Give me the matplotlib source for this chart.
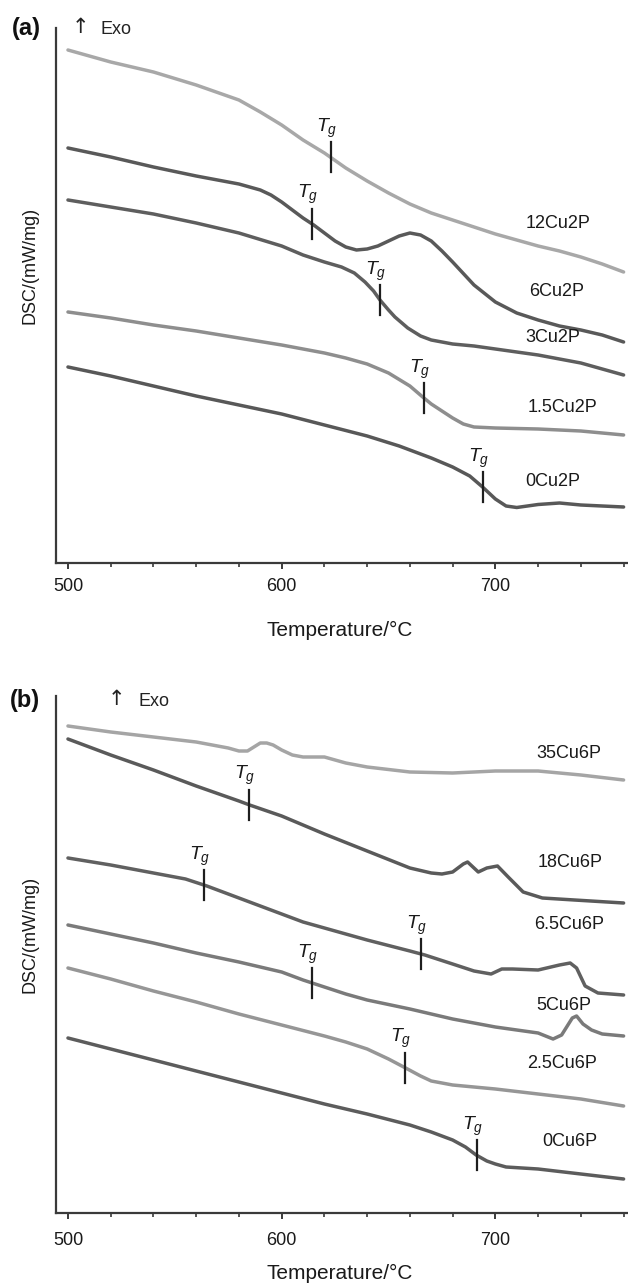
import numpy as np
import matplotlib
matplotlib.use("Agg")
import matplotlib.pyplot as plt
from matplotlib.ticker import MultipleLocator

plt.rcParams['font.family'] = ['Liberation Sans', 'DejaVu Sans']
plt.rcParams['mathtext.fontset'] = 'custom'
plt.rcParams['mathtext.it'] = 'Liberation Sans:italic'
plt.rcParams['mathtext.rm'] = 'Liberation Sans'

# ---------------- Panel (a) data: temperature (°C) / DSC (arb. units) ----------------
t_12Cu2P = [500, 520, 540, 560, 580, 590, 600, 610, 620, 630, 640, 650, 660, 670, 680, 690, 700, 710, 720, 730, 740, 750, 760]
d_12Cu2P = [5.13, 5.01, 4.91, 4.78, 4.63, 4.51, 4.38, 4.23, 4.10, 3.95, 3.82, 3.70, 3.59, 3.50, 3.43, 3.36, 3.29, 3.23, 3.17, 3.12, 3.06, 2.99, 2.91]

t_6Cu2P = [500, 520, 540, 560, 580, 590, 595, 600, 605, 610, 615, 620, 625, 630, 635, 640, 645, 650, 655, 660, 665, 670, 675, 680, 690, 700, 710, 720, 730, 740, 750, 760]
d_6Cu2P = [4.15, 4.06, 3.96, 3.87, 3.79, 3.73, 3.68, 3.61, 3.53, 3.45, 3.38, 3.30, 3.22, 3.16, 3.13, 3.14, 3.17, 3.22, 3.27, 3.30, 3.28, 3.22, 3.12, 3.01, 2.78, 2.61, 2.50, 2.43, 2.37, 2.33, 2.28, 2.21]

t_3Cu2P = [500, 520, 540, 560, 580, 600, 610, 620, 628, 634, 639, 643, 646, 650, 653, 659, 665, 670, 680, 690, 700, 720, 740, 750, 760]
d_3Cu2P = [3.63, 3.56, 3.49, 3.40, 3.30, 3.17, 3.08, 3.01, 2.96, 2.90, 2.81, 2.72, 2.63, 2.53, 2.46, 2.35, 2.27, 2.23, 2.19, 2.17, 2.14, 2.08, 2.00, 1.94, 1.88]

t_15Cu2P = [500, 520, 540, 560, 580, 600, 620, 630, 640, 650, 660, 666, 670, 680, 685, 690, 700, 720, 740, 760]
d_15Cu2P = [2.51, 2.45, 2.38, 2.32, 2.25, 2.18, 2.10, 2.05, 1.99, 1.90, 1.77, 1.66, 1.59, 1.45, 1.39, 1.36, 1.35, 1.34, 1.32, 1.28]

t_0Cu2P = [500, 520, 540, 560, 580, 600, 620, 640, 655, 670, 680, 688, 694, 700, 705, 710, 720, 730, 740, 750, 760]
d_0Cu2P = [1.96, 1.87, 1.77, 1.67, 1.58, 1.49, 1.38, 1.27, 1.17, 1.05, 0.96, 0.87, 0.76, 0.64, 0.57, 0.555, 0.585, 0.60, 0.58, 0.57, 0.56]

labels_a = ['12Cu2P', '6Cu2P', '3Cu2P', '1.5Cu2P', '0Cu2P']
tg_a = [[623], [614], [646], [666.5], [694]]

# ---------------- Panel (b) data ----------------
t_35Cu6P = [500, 520, 540, 560, 575, 580, 584, 587, 590, 593, 596, 600, 605, 610, 620, 630, 640, 660, 680, 700, 720, 740, 760]
d_35Cu6P = [4.87, 4.81, 4.76, 4.71, 4.65, 4.62, 4.62, 4.66, 4.70, 4.70, 4.68, 4.63, 4.58, 4.56, 4.56, 4.50, 4.46, 4.41, 4.40, 4.42, 4.42, 4.38, 4.33]

t_18Cu6P = [500, 520, 540, 560, 580, 585, 600, 620, 640, 660, 670, 675, 680, 685, 687, 692, 696, 701, 706, 713, 722, 737, 760]
d_18Cu6P = [4.74, 4.58, 4.43, 4.27, 4.12, 4.08, 3.97, 3.79, 3.62, 3.45, 3.40, 3.39, 3.41, 3.49, 3.51, 3.41, 3.45, 3.47, 3.36, 3.21, 3.15, 3.13, 3.10]

t_65Cu6P = [500, 520, 540, 555, 565, 575, 590, 600, 610, 620, 640, 660, 667, 680, 690, 698, 703, 708, 720, 730, 735, 738, 742, 748, 760]
d_65Cu6P = [3.55, 3.48, 3.40, 3.34, 3.27, 3.19, 3.07, 2.99, 2.91, 2.85, 2.73, 2.62, 2.58, 2.49, 2.42, 2.39, 2.44, 2.44, 2.43, 2.48, 2.50, 2.45, 2.27, 2.20, 2.18]

t_5Cu6P = [500, 520, 540, 560, 580, 600, 610, 620, 630, 640, 660, 680, 700, 720, 727, 731, 736, 738, 741, 745, 750, 760]
d_5Cu6P = [2.88, 2.79, 2.70, 2.60, 2.51, 2.41, 2.33, 2.26, 2.19, 2.13, 2.04, 1.94, 1.86, 1.80, 1.74, 1.78, 1.95, 1.97, 1.89, 1.83, 1.79, 1.77]

t_25Cu6P = [500, 520, 540, 560, 580, 600, 620, 630, 640, 650, 658, 665, 670, 680, 690, 700, 720, 740, 760]
d_25Cu6P = [2.45, 2.34, 2.22, 2.11, 1.99, 1.88, 1.77, 1.71, 1.64, 1.54, 1.45, 1.37, 1.32, 1.28, 1.26, 1.24, 1.19, 1.14, 1.07]

t_0Cu6P = [500, 520, 540, 560, 580, 600, 620, 640, 660, 670, 680, 686, 691, 696, 700, 705, 720, 740, 760]
d_0Cu6P = [1.75, 1.64, 1.53, 1.42, 1.31, 1.20, 1.09, 0.99, 0.88, 0.81, 0.73, 0.66, 0.58, 0.52, 0.49, 0.46, 0.44, 0.39, 0.34]

labels_b = ['35Cu6P', '18Cu6P', '6.5Cu6P', '5Cu6P', '2.5Cu6P', '0Cu6P']
tg_b = [[], [584.7], [563.7, 665], [614], [657.7], [691.2]]

x_major = [500, 600, 700]

W, H = 628, 1285
fig = plt.figure(figsize=(W / 100, H / 100), dpi=100)


def fx(px):
    return px / W


def fy(py):
    return 1 - py / H


def make_axes(top_px, bot_px, pad):
    ax = fig.add_axes([fx(56), fy(bot_px), 1 - fx(56) + 0.01, (bot_px - top_px) / H])
    ax.set_xlim(494.4, 765)
    ax.set_ylim(0, (bot_px - top_px) / 100)
    for s in ['top', 'right']:
        ax.spines[s].set_visible(False)
    for s in ['left', 'bottom']:
        ax.spines[s].set_color('#3a3a3a')
        ax.spines[s].set_linewidth(1.6)
    ax.set_yticks([])
    ax.set_xticks(x_major)
    ax.xaxis.set_minor_locator(MultipleLocator(20))
    ax.tick_params(axis='x', which='major', length=4, width=1.4, color='#3a3a3a',
                   labelsize=13, pad=pad, labelcolor='#1a1a1a')
    ax.tick_params(axis='x', which='minor', length=3, width=1.2, color='#3a3a3a')
    ax.set_xlabel('Temperature/°C', fontsize=15, color='#1a1a1a')
    ax.set_ylabel('DSC/(mW/mg)', fontsize=13, color='#1a1a1a')
    return ax


def draw(ax, ts, ds, colors, labels, tgs, label_pos, tg_dx):
    for t, d, c, lab, tgl, lp in zip(ts, ds, colors, labels, tgs, label_pos):
        ax.plot(t, d, color=c, lw=2.5, solid_joinstyle='round', solid_capstyle='round')
        for tg in tgl:
            yv = np.interp(tg, t, d)
            ax.plot([tg, tg], [yv - 0.15, yv + 0.15], color='#1e1e1e', lw=1.6)
            ax.annotate('$T_g$', (tg, yv + 0.15), xytext=(tg_dx, 10), textcoords='offset points',
                        ha='center', va='center', fontsize=14, color='#1a1a1a')
        ax.text(lp[0], lp[1], lab, fontsize=13, color='#1a1a1a', ha='left', va='center')


# ---------------- Panel (a) ----------------
ax1 = make_axes(28, 563, 7)
ts_a = [t_12Cu2P, t_6Cu2P, t_3Cu2P, t_15Cu2P, t_0Cu2P]
ds_a = [d_12Cu2P, d_6Cu2P, d_3Cu2P, d_15Cu2P, d_0Cu2P]
cols_a = ['#a8a8a8', '#595959', '#5e5e5e', '#8e8e8e', '#585858']
lpos_a = [(714, (563 - 223) / 100), (716, (563 - 292) / 100), (714, (563 - 338) / 100),
          (715, (563 - 408) / 100), (714, (563 - 482) / 100)]
draw(ax1, ts_a, ds_a, cols_a, labels_a, tg_a, lpos_a, -3)
ax1.xaxis.set_label_coords(0.49, -0.108)
ax1.yaxis.set_label_coords(-0.031, 0.557)

# ---------------- Panel (b) ----------------
ax2 = make_axes(696, 1213, 9.5)
ts_b = [t_35Cu6P, t_18Cu6P, t_65Cu6P, t_5Cu6P, t_25Cu6P, t_0Cu6P]
ds_b = [d_35Cu6P, d_18Cu6P, d_65Cu6P, d_5Cu6P, d_25Cu6P, d_0Cu6P]
cols_b = ['#a5a5a5', '#5a5a5a', '#606060', '#7a7a7a', '#969696', '#5c5c5c']
lpos_b = [(719, (1213 - 754) / 100), (720, (1213 - 863) / 100), (718, (1213 - 925) / 100),
          (719, (1213 - 1005) / 100), (715, (1213 - 1063) / 100), (722, (1213 - 1142) / 100)]
draw(ax2, ts_b, ds_b, cols_b, labels_b, tg_b, lpos_b, -3)
ax2.xaxis.set_label_coords(0.49, -0.099)
ax2.yaxis.set_label_coords(-0.031, 0.538)

# ---------------- Panel letters & Exo arrows ----------------
fig.text(fx(26), fy(29), '(a)', fontsize=17, fontweight='bold', ha='center', va='center', color='#111111')
fig.text(fx(80), fy(27), '↑', fontsize=15, family='DejaVu Sans', ha='center', va='center', color='#222222')
fig.text(fx(101), fy(30), 'Exo', fontsize=13, ha='left', va='center', color='#222222')
fig.text(fx(25), fy(701), '(b)', fontsize=17, fontweight='bold', ha='center', va='center', color='#111111')
fig.text(fx(116), fy(699), '↑', fontsize=15, family='DejaVu Sans', ha='center', va='center', color='#222222')
fig.text(fx(139), fy(702), 'Exo', fontsize=13, ha='left', va='center', color='#222222')

fig.savefig('out.png', dpi=100)
